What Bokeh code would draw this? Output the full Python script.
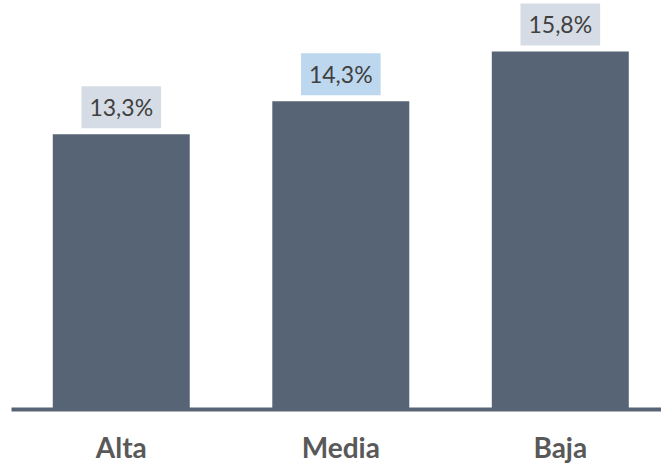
from bokeh.plotting import figure
from bokeh.models import ColumnDataSource, Label, FixedTicker, Range1d
from bokeh.embed import file_html
from bokeh.resources import INLINE

categories = ["Alta", "Media", "Baja"]
values = [13.3, 14.3, 15.8]
labels = ["13,3%", "14,3%", "15,8%"]
label_bg = ["#d6dce5", "#bdd7ee", "#d6dce5"]
baseline = 5.0

idx = list(range(len(categories)))
src = ColumnDataSource(dict(x=idx, top=values))

p = figure(width=661, height=466, output_backend="svg", toolbar_location=None,
           x_range=Range1d(-0.5, 2.461), y_range=Range1d(baseline, 17.335),
           y_axis_location=None, min_border_left=11, min_border_right=0,
           min_border_top=0, min_border_bottom=55)
p.outline_line_color = None
p.xgrid.visible = False
p.ygrid.visible = False
p.background_fill_color = "white"
p.border_fill_color = "white"

bar_color = "#576475"
p.vbar(x="x", top="top", bottom=baseline, width=0.624, source=src,
       fill_color=bar_color, line_color=None)

for xi, v, t, bg in zip(idx, values, labels, label_bg):
    p.add_layout(Label(x=xi, y=v, text=t, y_offset=27,
                       text_align="center", text_baseline="middle",
                       text_font="Lato", text_font_size="23px", text_color="#404040",
                       background_fill_color=bg, padding=(8, 7)))

ax = p.xaxis[0]
ax.ticker = FixedTicker(ticks=idx)
ax.major_label_overrides = {i: c for i, c in zip(idx, categories)}
ax.axis_line_color = bar_color
ax.axis_line_width = 4
ax.major_tick_line_color = None
ax.minor_tick_line_color = None
ax.major_tick_in = 0
ax.major_tick_out = 0
ax.major_label_standoff = 20
ax.major_label_text_font = "Lato"
ax.major_label_text_font_style = "bold"
ax.major_label_text_font_size = "28px"
ax.major_label_text_color = "#595959"

open("out.html", "w").write(file_html(p, INLINE))
